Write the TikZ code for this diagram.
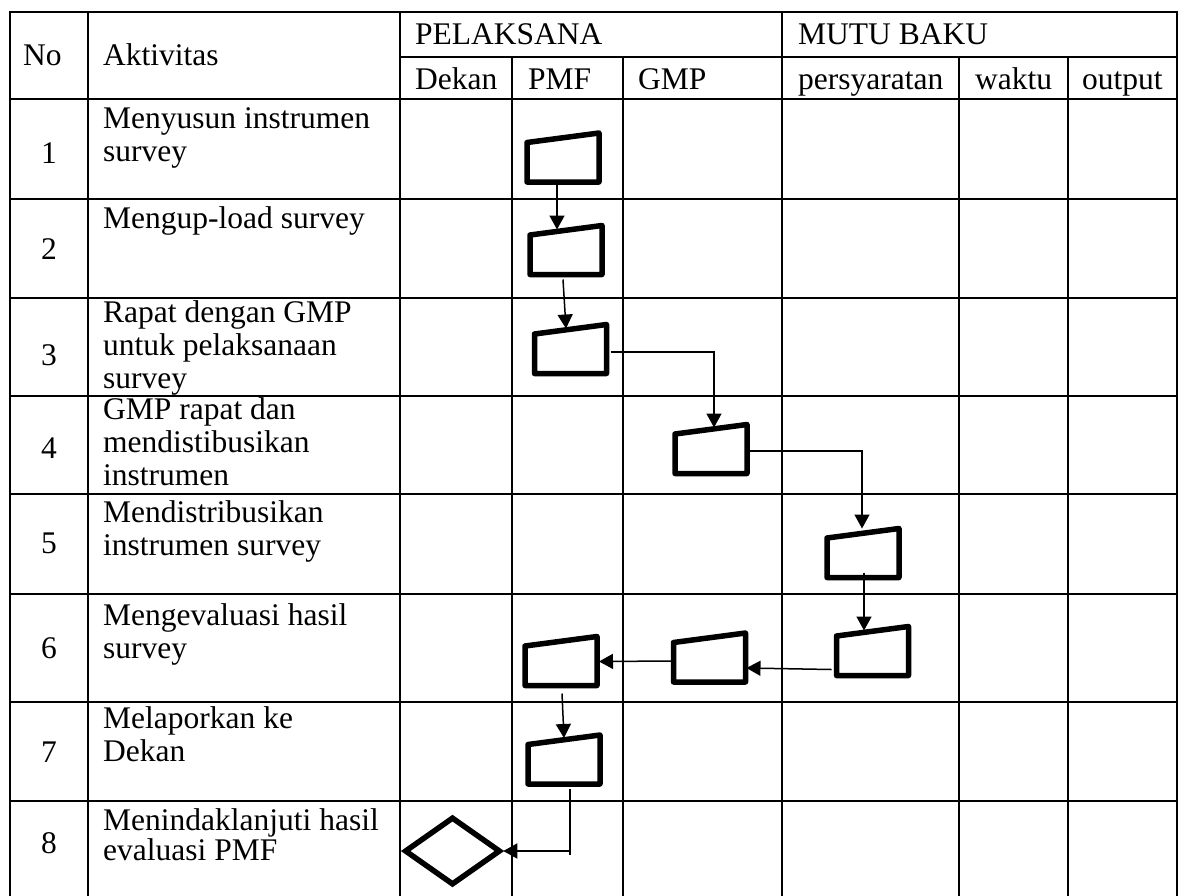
\documentclass[tikz,border=0pt]{standalone}
\usepackage{fontspec}
\setmainfont{Liberation Serif}
\usetikzlibrary{arrows.meta,calc,shapes.geometric}
\begin{document}
\begin{tikzpicture}[x=1pt,y=-1pt,
  grid/.style={line width=1.8pt},
  txt/.style={inner sep=0pt, font=\fontsize{31.5}{33}\selectfont},
  hd/.style={txt, anchor=base west},
  cell/.style={txt, anchor=north west, align=left},
  num/.style={txt, anchor=base},
  manual/.style={minimum width=72pt, minimum height=49pt, inner sep=0pt, outer sep=0pt},
  outline/.style={line width=5.5pt, line join=round},
  dec/.style={diamond, draw, line width=5.5pt, line join=miter, minimum width=96pt, minimum height=68pt, inner sep=0pt},
  conn/.style={line width=1.5pt},
  arr/.style={conn, -{Triangle[length=14pt,width=15pt]}}
]
\useasboundingbox (0,0) rectangle (1178,895);
% table grid
\draw[grid] (10,898) -- (10,12) -- (1177,12) -- (1177,898);
\foreach \x in {88,400,782} \draw[grid] (\x,12) -- (\x,898);
\foreach \x in {512,623,959,1068} \draw[grid] (\x,57) -- (\x,898);
\draw[grid] (400,57) -- (1177,57);
\foreach \y in {99,199,298,396,494,594,702,801} \draw[grid] (10,\y) -- (1177,\y);
% header
\node[hd] (hno) at (23,65) {No};
\node[hd] (hakt) at (103,65) {Aktivitas};
\node[hd] (hpel) at (415,44) {PELAKSANA};
\node[hd] (hmutu) at (798,44) {MUTU BAKU};
\node[hd] (hdek) at (415,89) {Dekan};
\node[hd] (hpmf) at (528,89) {PMF};
\node[hd] (hgmp) at (638,89) {GMP};
\node[hd] (hsyar) at (798,89) {persyaratan};
\node[hd] (hwak) at (975,89) {waktu};
\node[hd] (hout) at (1082,89) {output};
% numbers
\node[num] (n1) at (49,163) {1};
\node[num] (n2) at (49,259) {2};
\node[num] (n3) at (49,365) {3};
\node[num] (n4) at (49,458) {4};
\node[num] (n5) at (49,553) {5};
\node[num] (n6) at (49,658) {6};
\node[num] (n7) at (49,762) {7};
\node[num] (n8) at (49,853) {8};
% activities (first baseline = y + 23.1)
\node[cell] (a1) at (103,105) {\strut Menyusun instrumen\\survey};
\node[cell] (a2) at (103,205) {\strut Mengup-load survey};
\node[cell] (a3) at (103,299) {\strut Rapat dengan GMP\\untuk pelaksanaan\\survey};
\node[cell] (a4) at (103,396) {\strut GMP rapat dan\\mendistibusikan\\instrumen};
\node[cell] (a5) at (103,499) {\strut Mendistribusikan\\instrumen survey};
\node[cell] (a6) at (103,602) {\strut Mengevaluasi hasil\\survey};
\node[cell] (a7) at (103,705) {\strut Melaporkan ke\\Dekan};
\node[cell] (a8) at (103,807) {\strut Menindaklanjuti hasil\\[-3pt]evaluasi PMF};
% process boxes (manual input)
\node[manual] (b1) at (563,157.5) {};
\node[manual] (b2) at (566,250) {};
\node[manual] (b3) at (570.5,349) {};
\node[manual] (b4) at (711,449) {};
\node[manual] (b5) at (863,553) {};
\node[manual] (b6c) at (872.5,651) {};
\node[manual] (b6b) at (709.5,657.5) {};
\node[manual] (b6a) at (561,661) {};
\node[manual] (b7) at (564,759.5) {};
\node[dec] (d) at (452.5,851) {};
\foreach \n in {b1,b2,b3,b4,b5,b6c,b6b,b6a,b7}
  \draw[outline] (\n.south west) -- (\n.south east) -- (\n.north east)
     -- ([yshift=-9.5pt]\n.north west) -- cycle;
% connectors
\draw[arr] ($(b1.south)+(-6,0)$) -- ($(b2.north)+(-9,4)$);
\draw[arr] ($(b2.south)+(-3,5)$) -- ($(b3.north)+(-4.5,4)$);
\draw[arr] ($(b3.east)+(4,3)$) -| ($(b4.north)+(3,3)$);
\draw[arr] ($(b4.east)+(1,2)$) -| ($(b5.north)+(-1,0)$);
\draw[arr] ($(b5.south)+(1,-5)$) -- ($(b6c.north)+(-8.5,4)$);
\draw[arr] ($(b6c.south west)+(-5,-6)$) -- ($(b6b.south east)+(1,-14)$);
\draw[arr] ($(b6b.south west)+(-1,-21)$) -- ($(b6a.south east)+(2,-24)$);
\draw[arr] ($(b6a.south)+(1,8)$) -- ($(b7.north)+(0,3)$);
\coordinate (c7) at ($(b7.south)+(6,5)$);
\draw[conn] (c7) -- ($(c7 |- d.east)+(0,4)$);
\draw[arr] (c7 |- d.east) -- (d.east);
\end{tikzpicture}
\end{document}
